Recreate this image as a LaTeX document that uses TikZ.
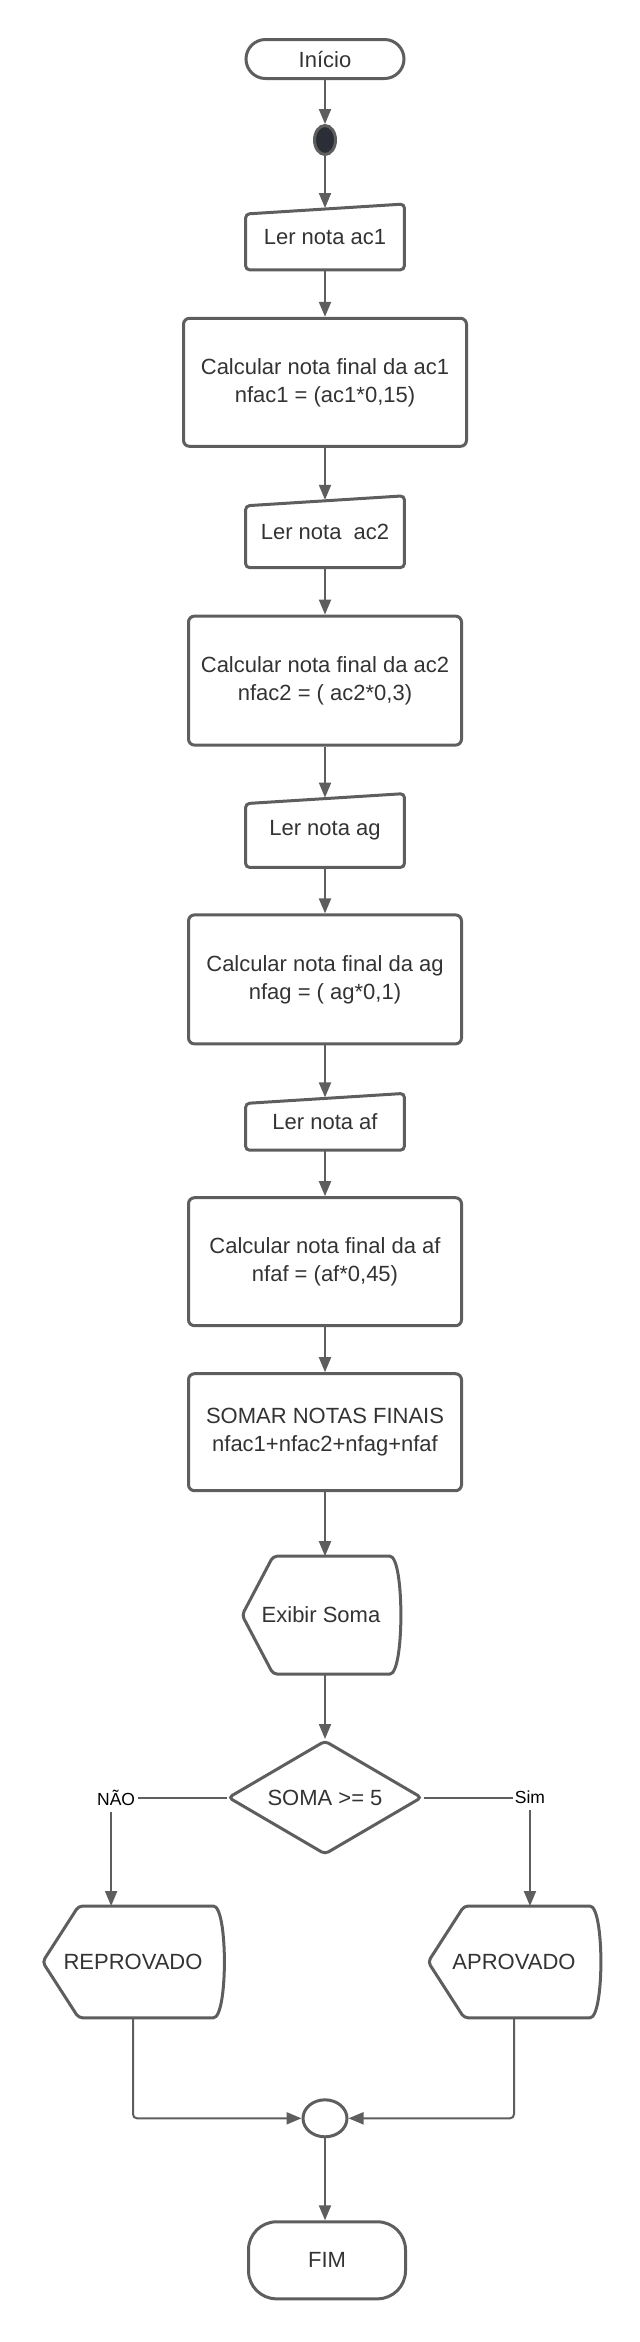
\documentclass[tikz,border=0pt]{standalone}
\usepackage{fontspec}
\setmainfont{Liberation Sans}
\usepackage{tikz}
\usetikzlibrary{arrows.meta, positioning, shapes.geometric, calc}
\usepackage{xcolor}
\definecolor{linha}{HTML}{5E5E5E}
\definecolor{texto}{HTML}{333333}
\definecolor{ponto}{HTML}{2B2E36}

\begin{document}
\begin{tikzpicture}[
    term/.style={draw=linha, line width=1.5pt, rounded corners=9.75pt, minimum width=79pt,
                 minimum height=19.5pt, text=texto, font=\fontsize{11}{14}\selectfont},
    proc/.style={draw=linha, line width=1.5pt, rounded corners=3pt, minimum width=136.5pt,
                 minimum height=64.5pt, text=texto, align=center, font=\fontsize{11}{14}\selectfont},
    leitura/.style={minimum width=79pt, text=texto, font=\fontsize{11}{14}\selectfont},
    exibe/.style={minimum height=55.5pt, text=texto, font=\fontsize{11}{14}\selectfont},
    escolha/.style={diamond, aspect=1.7, draw=linha, line width=1.5pt, rounded corners=2pt, inner sep=0pt,
                    minimum width=97pt, minimum height=57pt, text=texto, font=\fontsize{11}{14}\selectfont},
    forma/.style={line width=1.5pt, color=linha, rounded corners=2pt},
    rotulo/.style={font=\fontsize{8.75}{10}\selectfont, inner sep=1pt},
    arr/.style={-{Triangle[width=6pt, length=7.5pt]}, line width=1pt, color=linha},
    lin/.style={line width=1pt, color=linha},
    node distance=23.5pt
]
\useasboundingbox (0,0) rectangle (320pt,-1171pt);

\node[term] (inicio) at (162.5pt,-29.5pt) {Início};
\node[ellipse, draw=linha, line width=1.5pt, fill=ponto, minimum width=10.5pt,
      minimum height=14.5pt, inner sep=0pt, below=22pt of inicio] (marco) {};
\node[leitura, minimum height=32.5pt, below=24pt of marco] (ler1) {Ler nota ac1};
\node[proc, minimum width=141.5pt, minimum height=64pt, below=of ler1] (calc1)
      {Calcular nota final da ac1\\nfac1 = (ac1*0,15)};
\node[leitura, minimum height=35.5pt, below=24pt of calc1] (ler2) {Ler nota\ \ ac2};
\node[proc, below=of ler2] (calc2) {Calcular nota final da ac2\\nfac2 = ( ac2*0,3)};
\node[leitura, minimum height=36.5pt, below=of calc2] (ler3) {Ler nota ag};
\node[proc, below=23pt of ler3] (calc3) {Calcular nota final da ag\\nfag = ( ag*0,1)};
\node[leitura, minimum height=28pt, below=24pt of calc3] (ler4) {Ler nota af};
\node[proc, minimum height=64pt, below=23pt of ler4] (calc4)
      {Calcular nota final da af\\nfaf = (af*0,45)};
\node[proc, minimum height=58.5pt, below=22.5pt of calc4] (somar)
      {SOMAR NOTAS FINAIS\\nfac1+nfac2+nfag+nfaf};
\node[exibe, minimum width=78.5pt, minimum height=58.5pt, below=32pt of somar, xshift=-2pt] (exibir)
      {Exibir Soma};
\node[escolha, below=32.5pt of exibir, xshift=2pt] (teste) {SOMA >= 5};

% saidas do teste
\node[rotulo, left=44.5pt of teste] (nao) {NÃO};
\node[rotulo, right=44.5pt of teste] (sim) {Sim};
\node[exibe, minimum width=90pt, below=25pt of teste, xshift=-96pt] (reprov) {REPROVADO};
\node[exibe, minimum width=85.5pt, below=25pt of teste, xshift=94.5pt] (aprov) {APROVADO};
\node[ellipse, draw=linha, line width=1.5pt, minimum width=22pt, minimum height=18.5pt,
      inner sep=0pt] (junta) at ($(teste |- reprov.south)+(0,-50.25pt)$) {};
\node[term, minimum width=78.5pt, minimum height=38.5pt, rounded corners=14pt,
      below=41pt of junta, xshift=1pt] (fim) {FIM};

% contornos das entradas manuais e das exibicoes
\foreach \n in {ler1,ler2,ler3,ler4}
  \draw[forma] (\n.south) -- (\n.south west) -- ($(\n.north west)+(0,-5pt)$)
    -- (\n.north east) -- (\n.south east) -- cycle;
\foreach \n/\p in {exibir/15.5pt, reprov/18pt, aprov/18pt}
  \draw[forma] (\n.north) -- ($(\n.north east)+(-7pt,0)$)
    .. controls ($(\n.north east)+(2.33pt,0)$) and ($(\n.south east)+(2.33pt,0)$)
    .. ($(\n.south east)+(-7pt,0)$) -- ($(\n.south west)+(\p,0)$) -- (\n.west)
    -- ($(\n.north west)+(\p,0)$) -- cycle;

\draw[arr] (inicio) -- (marco);
\draw[arr, shorten >=-2pt] (marco) -- (ler1);
\draw[arr] (ler1) -- (calc1);
\draw[arr, shorten >=-2pt] (calc1) -- (ler2);
\draw[arr] (ler2) -- (calc2);
\draw[arr, shorten >=-2pt] (calc2) -- (ler3);
\draw[arr] (ler3) -- (calc3);
\draw[arr, shorten >=-2pt] (calc3) -- (ler4);
\draw[arr] (ler4) -- (calc4);
\draw[arr] (calc4) -- (somar);
\draw[arr] (somar) -- (somar |- exibir.north);
\draw[arr] (exibir.south -| teste) -- (teste.north);

\draw[lin] (teste.west) -- (nao.east);
\draw[arr, shorten <=2pt] ([xshift=-2.5pt]nao.south) -- ([xshift=-2.5pt]nao.south |- reprov.north);
\draw[lin] (teste.east) -- (sim.west);
\draw[arr, shorten <=2pt] (sim.south) -- (sim.south |- aprov.north);
\draw[arr, rounded corners=2pt] (reprov.south) |- (junta.west);
\draw[arr, rounded corners=2pt] (aprov.south) |- (junta.east);
\draw[arr] (junta) -- (junta |- fim.north);
\end{tikzpicture}
\end{document}
